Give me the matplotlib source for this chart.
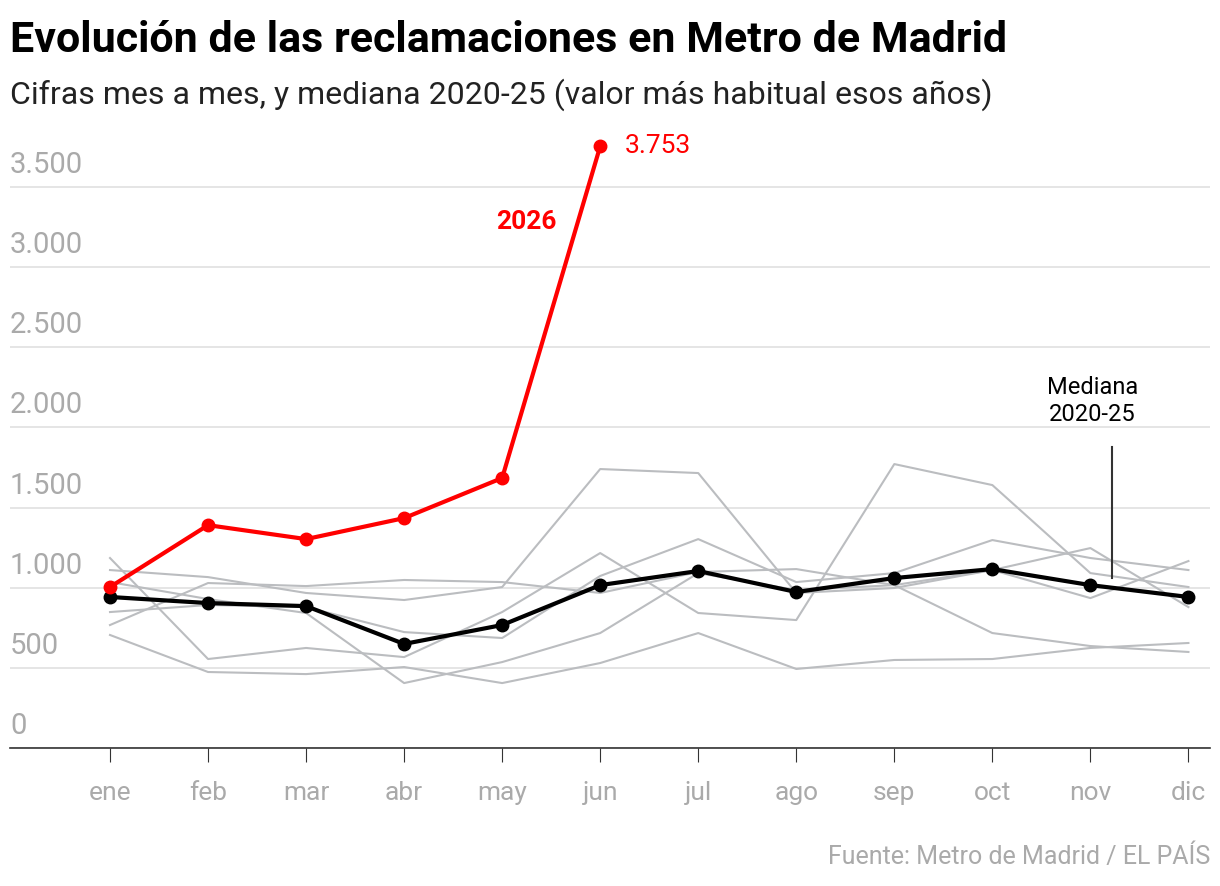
import matplotlib
matplotlib.use("Agg")
import matplotlib.pyplot as plt

months = ["ene","feb","mar","abr","may","jun","jul","ago","sep","oct","nov","dic"]
y2026 = [1004, 1390, 1303, 1434, 1684, 3753]
mediana = [942, 904, 885, 649, 767, 1016, 1104, 973, 1060, 1116, 1016, 942]
y_a = [1110, 1066, 967, 923, 1004, 1740, 1715, 967, 998, 1110, 935, 1166]
y_b = [1185, 555, 624, 567, 848, 1216, 842, 798, 1771, 1640, 1091, 1004]
y_c = [848, 892, 879, 723, 686, 1073, 1303, 1035, 1091, 1297, 1185, 1110]
y_d = [767, 1029, 1010, 1048, 1035, 967, 1098, 1116, 1016, 717, 636, 599]
y_e = [705, 474, 461, 505, 405, 530, 717, 493, 549, 555, 624, 655]
y_f = [1035, 929, 842, 405, 536, 717, 1091, 985, 1016, 1110, 1247, 879]
yticks = [0, 500, 1000, 1500, 2000, 2500, 3000, 3500]
ytick_labels = ["0", "500", "1.000", "1.500", "2.000", "2.500", "3.000", "3.500"]

plt.rcParams['font.family'] = ['Roboto', 'DejaVu Sans']
fig = plt.figure(figsize=(12.2, 8.86), dpi=100)
ax = fig.add_axes([10/1220, 1-748/886, 1200/1220, 0.7057])
x = list(range(12))
for s in [y_a, y_b, y_c, y_d, y_e, y_f]:
    ax.plot(x, s, color="#bbbdc0", lw=1.5, zorder=2)
ax.plot(x, mediana, color="black", lw=3, marker="o", ms=9, zorder=4)
ax.plot(x[:6], y2026, color="#ff0000", lw=3, marker="o", ms=9, zorder=5)

ax.set_xlim(-1.02, 11.22)
ax.set_ylim(0, 3900)
for t, lab in zip(yticks, ytick_labels):
    ax.axhline(t, color="#e0e0e0", lw=1.2, zorder=1)
    ax.text(0, t + 50, lab, transform=ax.get_yaxis_transform(), fontsize=21,
            color="#aaaaaa", va="bottom", ha="left")
ax.set_yticks([])
ax.set_xticks(x)
ax.set_xticklabels(months, fontsize=19, color="#aaaaaa")
ax.tick_params(axis="x", length=10, color="#333333", pad=14)
for sp in ["top", "right", "left"]:
    ax.spines[sp].set_visible(False)
ax.spines["bottom"].set_color("#333333")
ax.spines["bottom"].set_linewidth(1.2)

ax.text(5.25, y2026[5], "3.753", color="#ff0000", fontsize=19, va="center", ha="left")
ax.text(4.55, 3280, "2026", color="#ff0000", fontsize=19, fontweight="bold", ha="right", va="center")
ax.text(10.02, 2010, "Mediana\n2020-25", color="black", fontsize=17, ha="center", va="bottom", linespacing=1.2)
ax.plot([10.22, 10.22], [1880, 1060], color="#333333", lw=1.5)

fig.text(10/1220, 1-40/886, "Evolución de las reclamaciones en Metro de Madrid", fontsize=31,
         fontweight="bold", va="center", ha="left")
fig.text(10/1220, 1-95/886, "Cifras mes a mes, y mediana 2020-25 (valor más habitual esos años)",
         fontsize=23, va="center", ha="left", color="#222222")
fig.text(1210/1220, 1-857/886, "Fuente: Metro de Madrid / EL PAÍS", fontsize=18,
         color="#aaaaaa", ha="right", va="center")
fig.savefig("out.png", dpi=100)
